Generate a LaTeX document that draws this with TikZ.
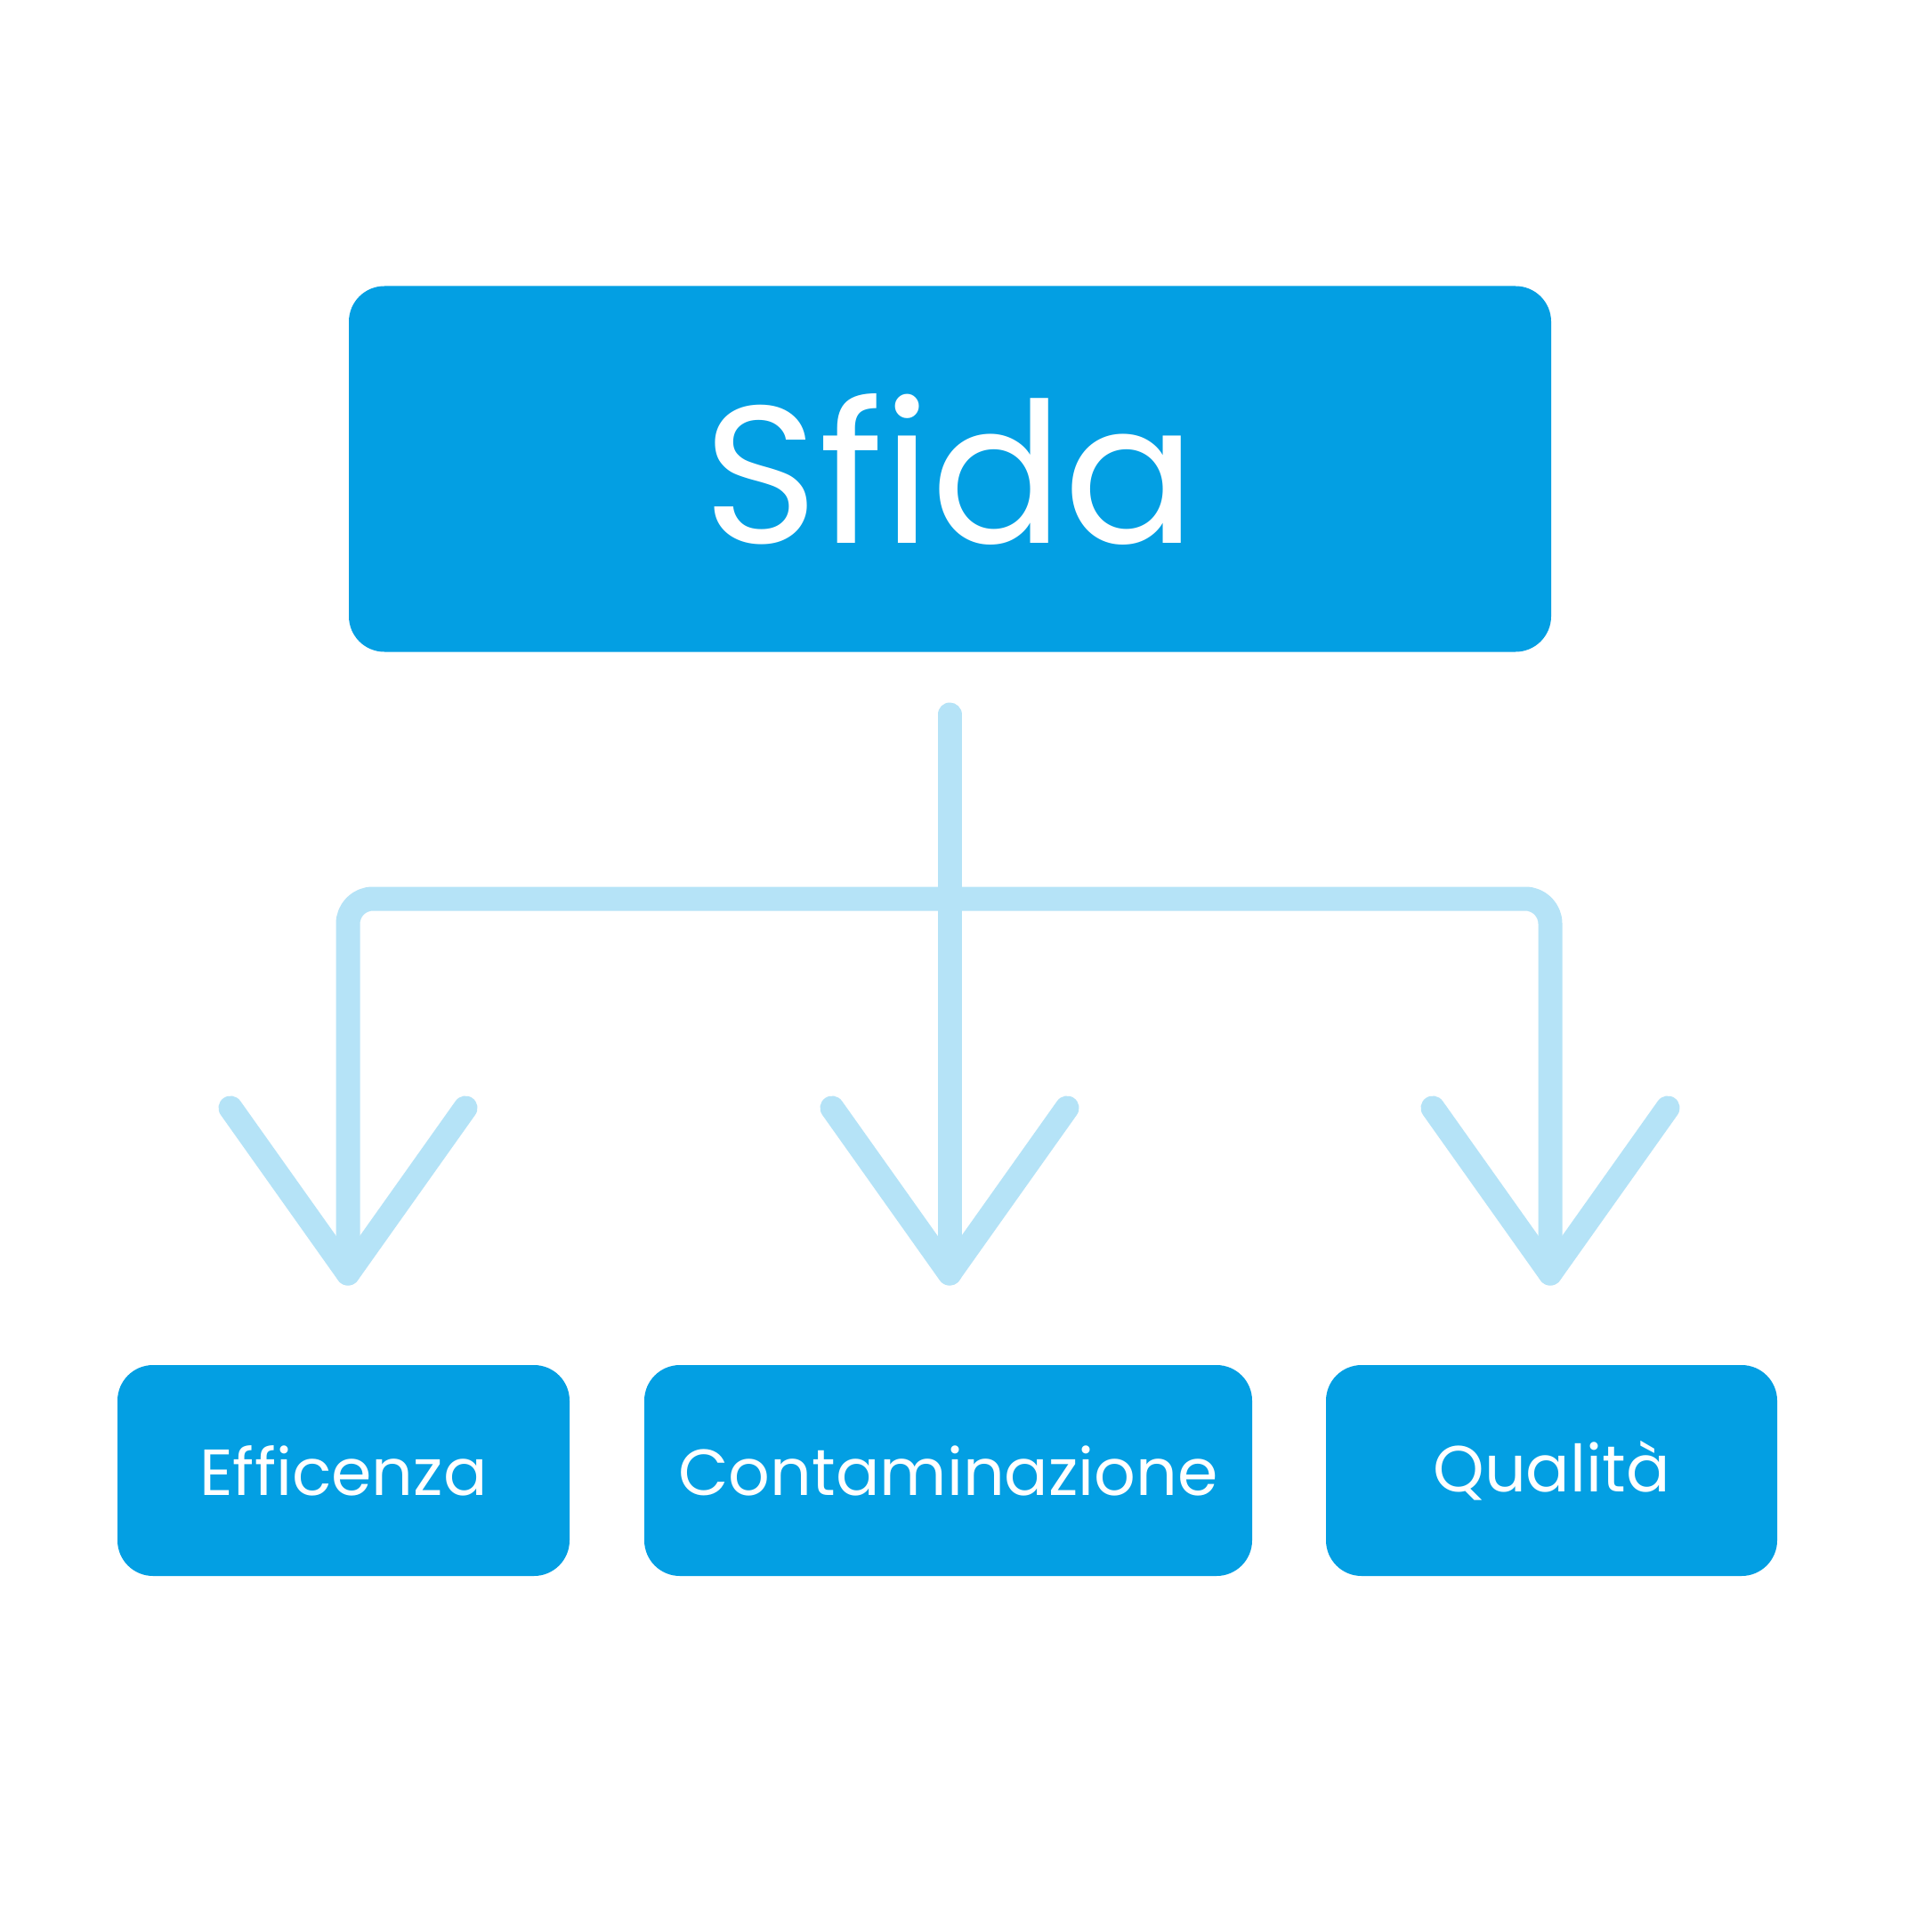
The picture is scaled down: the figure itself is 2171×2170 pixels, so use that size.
\documentclass[tikz,border=0pt]{standalone}
\usepackage{fontspec}
\setmainfont{Poppins}
\usetikzlibrary{calc}
\definecolor{boxblue}{HTML}{039FE3}
\definecolor{lineblue}{HTML}{B5E3F7}
\begin{document}
\begin{tikzpicture}[x=0.25pt,y=-0.25pt,
  box/.style={fill=boxblue, rounded corners=10pt, text=white, inner sep=0pt, outer sep=0pt},
  small/.style={font=\fontsize{18.3}{22}\selectfont},
  conn/.style={draw=lineblue, line width=6.75pt, line cap=round, line join=round}]
\fill[white] (0,0) rectangle (2171,2170);
\useasboundingbox (0,0) rectangle (2171,2170);
\node[box, minimum width=337.75pt, minimum height=102.75pt, font=\fontsize{55}{60}\selectfont] (sfida) at (1067.5,527) {Sfida};
\node[box, small, minimum width=127pt, minimum height=59.25pt] (a) at (386,1652.5) {Efficenza};
\node[box, small, minimum width=170.75pt, minimum height=59.25pt] (b) at (1065.5,1652.5) {Contaminazione};
\node[box, small, minimum width=126.75pt, minimum height=59.25pt] (c) at (1743.5,1652.5) {Qualità};
\coordinate (top) at (1067,803);
\coordinate (ta) at (391,1431);
\coordinate (tb) at (1067,1431);
\coordinate (tc) at (1742,1431);
\draw[conn] (top) -- (tb);
\draw[conn, rounded corners=7pt] (ta) -- (ta |- 0,1010) -- (tc |- 0,1010) -- (tc);
\foreach \t in {ta,tb,tc}{
  \draw[conn] ($(\t)+(-132,-186)$) -- (\t) -- ($(\t)+(132,-186)$);
}
\end{tikzpicture}
\end{document}
